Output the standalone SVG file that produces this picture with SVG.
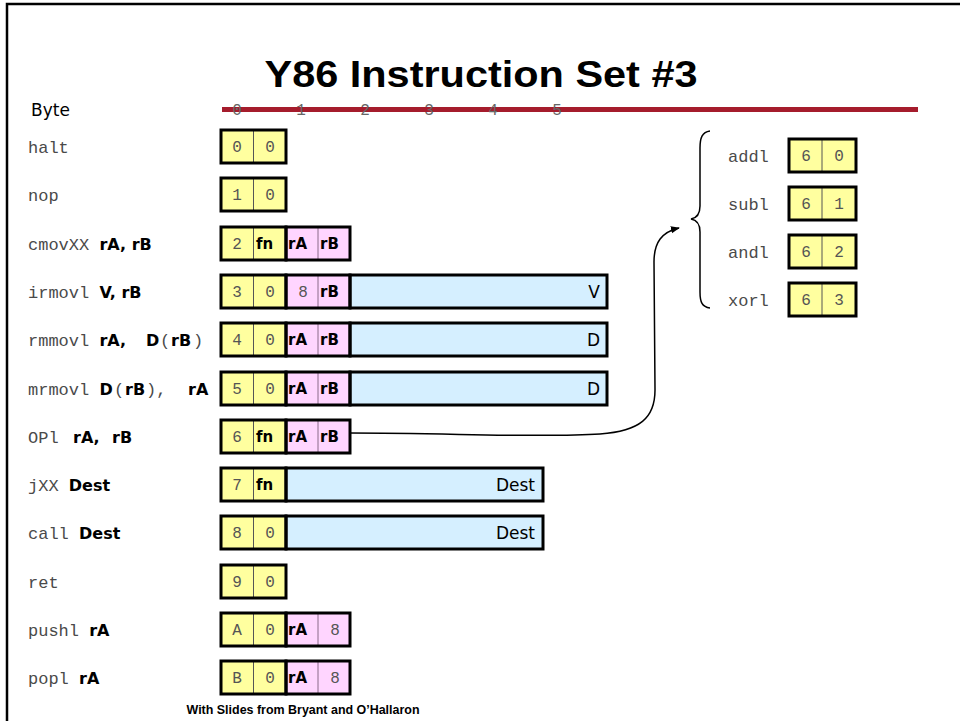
<svg xmlns="http://www.w3.org/2000/svg" width="960" height="721" viewBox="0 0 960 721">
  <defs>
    <style>
      .mono { font-family: "Liberation Mono", "Courier New", monospace; font-size: 17px; fill: #4a4a4a; }
      .cell { font-family: "Liberation Mono", "Courier New", monospace; font-size: 16px; fill: #555; text-anchor: middle; }
      .bold { font-family: "DejaVu Sans", "Liberation Sans", sans-serif; font-weight: bold; font-size: 16px; fill: #000; }
      .cb { font-family: "DejaVu Sans", "Liberation Sans", sans-serif; font-weight: bold; font-size: 15px; fill: #000; }
      .word { font-family: "DejaVu Sans", "Liberation Sans", sans-serif; font-size: 17px; fill: #000; }
      .ruler { font-family: "Liberation Mono", "Courier New", monospace; font-size: 16px; fill: #666; text-anchor: middle; }
      .y { fill: #FFFF9F; }
      .p { fill: #FFD5FF; }
      .b { fill: #D5EFFF; }
      .frame { fill: none; stroke: #000; stroke-width: 3; }
      .div { stroke: #555; stroke-width: 1; }
      .divp { stroke: #8a6a8a; stroke-width: 1; }
      .link { fill: none; stroke: #000; stroke-width: 1.5; }
    </style>
    <marker id="tip" viewBox="0 0 10 10" refX="9" refY="5" markerWidth="6" markerHeight="6" orient="auto">
      <path d="M0,1 L10,5 L0,9 z" fill="#000"/>
    </marker>
  </defs>

  <!-- slide frame -->
  <path d="M7,721 L7,4 L960,4" fill="none" stroke="#000" stroke-width="2.5"/>

  <!-- title and byte ruler -->
  <g id="title">
    <text x="481" y="87" text-anchor="middle" textLength="433" lengthAdjust="spacingAndGlyphs" font-family="Liberation Sans, Arial, sans-serif" font-weight="bold" font-size="36" fill="#000">Y86 Instruction Set #3</text>
  </g>
  <g id="ruler">
    <line x1="222" y1="109.5" x2="918" y2="109.5" stroke="#A51C2C" stroke-width="5"/>
    <text class="word" x="31" y="116" font-size="21">Byte</text>
    <text class="ruler" x="237" y="115">0</text>
    <text class="ruler" x="301" y="115">1</text>
    <text class="ruler" x="365" y="115">2</text>
    <text class="ruler" x="429" y="115">3</text>
    <text class="ruler" x="493" y="115">4</text>
    <text class="ruler" x="557" y="115">5</text>
  </g>

  <!-- halt -->
  <g id="halt">
    <text class="mono" x="28" y="153">halt</text>
    <rect class="y" x="221" y="130" width="65" height="33"/>
    <line class="div" x1="253.5" y1="130" x2="253.5" y2="163"/>
    <rect class="frame" x="221" y="130" width="65" height="33"/>
    <text class="cell" x="237" y="152">0</text><text class="cell" x="270" y="152">0</text>
  </g>

  <!-- nop -->
  <g id="nop">
    <text class="mono" x="28" y="201">nop</text>
    <rect class="y" x="221" y="178" width="65" height="33"/>
    <line class="div" x1="253.5" y1="178" x2="253.5" y2="211"/>
    <rect class="frame" x="221" y="178" width="65" height="33"/>
    <text class="cell" x="237" y="200">1</text><text class="cell" x="270" y="200">0</text>
  </g>

  <!-- cmovXX -->
  <g id="cmovXX">
    <text class="mono" x="28" y="250">cmovXX <tspan class="bold">rA, rB</tspan></text>
    <rect class="y" x="221" y="227" width="65" height="33"/>
    <rect class="p" x="286" y="227" width="64" height="33"/>
    <line class="div" x1="253.5" y1="227" x2="253.5" y2="260"/>
    <line class="divp" x1="318" y1="227" x2="318" y2="260"/>
    <rect class="frame" x="221" y="227" width="65" height="33"/>
    <rect class="frame" x="286" y="227" width="64" height="33"/>
    <text class="cell" x="237" y="249">2</text>
    <text class="cb" x="256" y="249">fn</text>
    <text class="cb" x="288" y="249">rA</text>
    <text class="cb" x="320" y="249">rB</text>
  </g>

  <!-- irmovl -->
  <g id="irmovl">
    <text class="mono" x="28" y="298">irmovl <tspan class="bold">V, rB</tspan></text>
    <rect class="y" x="221" y="275" width="65" height="33"/>
    <rect class="p" x="286" y="275" width="64" height="33"/>
    <rect class="b" x="350" y="275" width="257" height="33"/>
    <line class="div" x1="253.5" y1="275" x2="253.5" y2="308"/>
    <line class="divp" x1="318" y1="275" x2="318" y2="308"/>
    <rect class="frame" x="221" y="275" width="65" height="33"/>
    <rect class="frame" x="286" y="275" width="64" height="33"/>
    <rect class="frame" x="350" y="275" width="257" height="33"/>
    <text class="cell" x="303" y="297">8</text>
    <text class="cell" x="237" y="297">3</text><text class="cell" x="270" y="297">0</text>
    <text class="cb" x="320" y="297">rB</text>
    <text class="word" x="600" y="298" text-anchor="end">V</text>
  </g>

  <!-- rmmovl -->
  <g id="rmmovl">
    <text class="mono" x="28" y="346">rmmovl <tspan class="bold">rA,</tspan><tspan class="bold" x="146">D</tspan><tspan x="160">(</tspan><tspan class="bold" x="171">rB</tspan><tspan x="193">)</tspan></text>
    <rect class="y" x="221" y="323" width="65" height="33"/>
    <rect class="p" x="286" y="323" width="64" height="33"/>
    <rect class="b" x="350" y="323" width="257" height="33"/>
    <line class="div" x1="253.5" y1="323" x2="253.5" y2="356"/>
    <line class="divp" x1="318" y1="323" x2="318" y2="356"/>
    <rect class="frame" x="221" y="323" width="65" height="33"/>
    <rect class="frame" x="286" y="323" width="64" height="33"/>
    <rect class="frame" x="350" y="323" width="257" height="33"/>
    <text class="cell" x="237" y="345">4</text><text class="cell" x="270" y="345">0</text>
    <text class="cb" x="288" y="345">rA</text>
    <text class="cb" x="320" y="345">rB</text>
    <text class="word" x="600" y="346" text-anchor="end">D</text>
  </g>

  <!-- mrmovl -->
  <g id="mrmovl">
    <text class="mono" x="28" y="395">mrmovl <tspan class="bold">D</tspan><tspan x="114">(</tspan><tspan class="bold" x="125">rB</tspan><tspan x="146">),</tspan><tspan class="bold" x="188">rA</tspan></text>
    <rect class="y" x="221" y="372" width="65" height="33"/>
    <rect class="p" x="286" y="372" width="64" height="33"/>
    <rect class="b" x="350" y="372" width="257" height="33"/>
    <line class="div" x1="253.5" y1="372" x2="253.5" y2="405"/>
    <line class="divp" x1="318" y1="372" x2="318" y2="405"/>
    <rect class="frame" x="221" y="372" width="65" height="33"/>
    <rect class="frame" x="286" y="372" width="64" height="33"/>
    <rect class="frame" x="350" y="372" width="257" height="33"/>
    <text class="cell" x="237" y="394">5</text><text class="cell" x="270" y="394">0</text>
    <text class="cb" x="288" y="394">rA</text>
    <text class="cb" x="320" y="394">rB</text>
    <text class="word" x="600" y="395" text-anchor="end">D</text>
  </g>

  <!-- OPl -->
  <g id="OPl">
    <text class="mono" x="28" y="443">OPl <tspan class="bold" x="73">rA,</tspan><tspan class="bold" x="112">rB</tspan></text>
    <rect class="y" x="221" y="420" width="65" height="33"/>
    <rect class="p" x="286" y="420" width="64" height="33"/>
    <line class="div" x1="253.5" y1="420" x2="253.5" y2="453"/>
    <line class="divp" x1="318" y1="420" x2="318" y2="453"/>
    <rect class="frame" x="221" y="420" width="65" height="33"/>
    <rect class="frame" x="286" y="420" width="64" height="33"/>
    <text class="cell" x="237" y="442">6</text>
    <text class="cb" x="256" y="442">fn</text>
    <text class="cb" x="288" y="442">rA</text>
    <text class="cb" x="320" y="442">rB</text>
  </g>

  <!-- jXX -->
  <g id="jXX">
    <text class="mono" x="28" y="491">jXX <tspan class="bold">Dest</tspan></text>
    <rect class="y" x="221" y="468" width="65" height="33"/>
    <rect class="b" x="286" y="468" width="257" height="33"/>
    <line class="div" x1="253.5" y1="468" x2="253.5" y2="501"/>
    <rect class="frame" x="221" y="468" width="65" height="33"/>
    <rect class="frame" x="286" y="468" width="257" height="33"/>
    <text class="cell" x="237" y="490">7</text>
    <text class="cb" x="256" y="490">fn</text>
    <text class="word" x="535" y="491" text-anchor="end">Dest</text>
  </g>

  <!-- call -->
  <g id="call">
    <text class="mono" x="28" y="539">call <tspan class="bold">Dest</tspan></text>
    <rect class="y" x="221" y="516" width="65" height="33"/>
    <rect class="b" x="286" y="516" width="257" height="33"/>
    <line class="div" x1="253.5" y1="516" x2="253.5" y2="549"/>
    <rect class="frame" x="221" y="516" width="65" height="33"/>
    <rect class="frame" x="286" y="516" width="257" height="33"/>
    <text class="cell" x="237" y="538">8</text><text class="cell" x="270" y="538">0</text>
    <text class="word" x="535" y="539" text-anchor="end">Dest</text>
  </g>

  <!-- ret -->
  <g id="ret">
    <text class="mono" x="28" y="588">ret</text>
    <rect class="y" x="221" y="565" width="65" height="33"/>
    <line class="div" x1="253.5" y1="565" x2="253.5" y2="598"/>
    <rect class="frame" x="221" y="565" width="65" height="33"/>
    <text class="cell" x="237" y="587">9</text><text class="cell" x="270" y="587">0</text>
  </g>

  <!-- pushl -->
  <g id="pushl">
    <text class="mono" x="28" y="636">pushl <tspan class="bold">rA</tspan></text>
    <rect class="y" x="221" y="613" width="65" height="33"/>
    <rect class="p" x="286" y="613" width="64" height="33"/>
    <line class="div" x1="253.5" y1="613" x2="253.5" y2="646"/>
    <line class="divp" x1="318" y1="613" x2="318" y2="646"/>
    <rect class="frame" x="221" y="613" width="65" height="33"/>
    <rect class="frame" x="286" y="613" width="64" height="33"/>
    <text class="cell" x="237" y="635">A</text><text class="cell" x="270" y="635">0</text>
    <text class="cb" x="288" y="635">rA</text>
    <text class="cell" x="335" y="635">8</text>
  </g>

  <!-- popl -->
  <g id="popl">
    <text class="mono" x="28" y="684">popl <tspan class="bold">rA</tspan></text>
    <rect class="y" x="221" y="661" width="65" height="33"/>
    <rect class="p" x="286" y="661" width="64" height="33"/>
    <line class="div" x1="253.5" y1="661" x2="253.5" y2="694"/>
    <line class="divp" x1="318" y1="661" x2="318" y2="694"/>
    <rect class="frame" x="221" y="661" width="65" height="33"/>
    <rect class="frame" x="286" y="661" width="64" height="33"/>
    <text class="cell" x="237" y="683">B</text><text class="cell" x="270" y="683">0</text>
    <text class="cb" x="288" y="683">rA</text>
    <text class="cell" x="335" y="683">8</text>
  </g>

  <!-- OPl function codes -->
  <g id="addl">
    <text class="mono" x="728" y="162">addl</text>
    <rect class="y" x="789" y="139" width="67" height="33"/>
    <line class="div" x1="822" y1="139" x2="822" y2="172"/>
    <rect class="frame" x="789" y="139" width="67" height="33"/>
    <text class="cell" x="806" y="161">6</text><text class="cell" x="839" y="161">0</text>
  </g>
  <g id="subl">
    <text class="mono" x="728" y="210">subl</text>
    <rect class="y" x="789" y="187" width="67" height="33"/>
    <line class="div" x1="822" y1="187" x2="822" y2="220"/>
    <rect class="frame" x="789" y="187" width="67" height="33"/>
    <text class="cell" x="806" y="209">6</text><text class="cell" x="839" y="209">1</text>
  </g>
  <g id="andl">
    <text class="mono" x="728" y="258">andl</text>
    <rect class="y" x="789" y="235" width="67" height="33"/>
    <line class="div" x1="822" y1="235" x2="822" y2="268"/>
    <rect class="frame" x="789" y="235" width="67" height="33"/>
    <text class="cell" x="806" y="257">6</text><text class="cell" x="839" y="257">2</text>
  </g>
  <g id="xorl">
    <text class="mono" x="728" y="306">xorl</text>
    <rect class="y" x="789" y="283" width="67" height="33"/>
    <line class="div" x1="822" y1="283" x2="822" y2="316"/>
    <rect class="frame" x="789" y="283" width="67" height="33"/>
    <text class="cell" x="806" y="305">6</text><text class="cell" x="839" y="305">3</text>
  </g>

  <!-- brace and connector -->
  <g id="connectors">
    <path class="link" d="M710,131 C702,132 700,138 700,148 L700,206 C700,214 697,218 691,219 C697,220 700,224 700,232 L700,292 C700,302 702,307 710,308"/>
    <path class="link" marker-end="url(#tip)" d="M350,433 C450,433 540,438 600,434 C640,431 655,418 655,390 L654,262 C654,242 662,232 679,228"/>
  </g>

  <!-- credit line -->
  <text x="303" y="714" text-anchor="middle" textLength="233" lengthAdjust="spacingAndGlyphs" font-family="Liberation Sans, Arial, sans-serif" font-weight="bold" font-size="12" fill="#000">With Slides from Bryant and O’Hallaron</text>
</svg>
